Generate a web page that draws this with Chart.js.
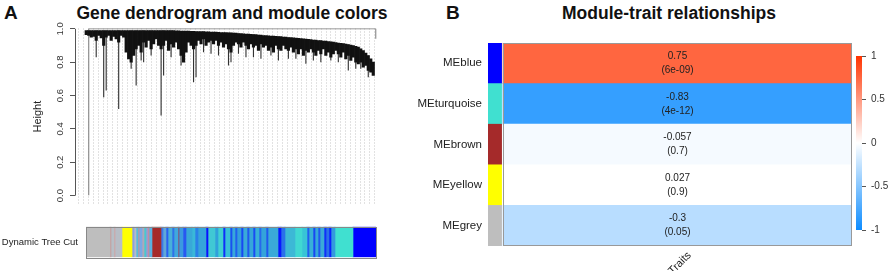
<!DOCTYPE html>
<html lang="en">
<head>
<meta charset="UTF-8">
<title>Gene dendrogram and module-trait relationships</title>
<script src="https://cdn.jsdelivr.net/npm/chart.js"></script>
<style>
  body { margin: 0; background: #fff; width: 892px; height: 271px; position: relative; overflow: hidden;
         font-family: "Liberation Sans", Arial, sans-serif; }
  .abs { position: absolute; }
  .panel { font-weight: bold; font-size: 19px; color: #111; line-height: 22px; }
  .title { font-weight: bold; font-size: 17.5px; color: #111; text-align: center; line-height: 22px; }
</style>
</head>
<body>
<div class="abs panel" style="left:4px;top:2px">A</div>
<div class="abs title" style="left:72px;top:2px;width:320px">Gene dendrogram and module colors</div>
<div class="abs panel" style="left:446px;top:2px">B</div>
<div class="abs title" style="left:519px;top:2px;width:300px">Module-trait relationships</div>
<canvas id="dendro" class="abs" style="left:0;top:0" width="392" height="214"></canvas>
<canvas id="cut" class="abs" style="left:0;top:213px" width="392" height="58"></canvas>
<canvas id="heat" class="abs" style="left:400px;top:0" width="492" height="271"></canvas>
<canvas id="key" class="abs" style="left:850px;top:45px" width="42" height="196"></canvas>
<script>
// ---- panel A: dendrogram ----
const yTicks = [0, 0.2, 0.4, 0.6, 0.8, 1.0];
const rootHeight = 1.0;

// merge height above each leaf group (left to right)
const leafTop = [
  0.99, 0.99, 0.99, 0.99, 0.99, 0.99, 0.99, 0.99, 0.99, 0.99, 0.99, 0.99, 0.99, 0.99, 0.99, 0.99,
  0.99, 0.99, 0.99, 0.99, 0.99, 0.99, 0.99, 0.99, 0.99, 0.99, 0.99, 0.99, 0.99, 0.99,
  0.99, 0.99, 0.99, 0.99, 0.99, 0.99,
  0.988, 0.988, 0.987, 0.987, 0.986, 0.986, 0.985, 0.985, 0.984, 0.984, 0.983, 0.983, 0.982, 0.982, 0.981,
  0.98, 0.98, 0.979, 0.978, 0.978, 0.977, 0.976, 0.976, 0.975, 0.974,
  0.972, 0.971, 0.97, 0.969, 0.968, 0.967, 0.966, 0.965, 0.963, 0.962,
  0.96, 0.959, 0.958, 0.957, 0.956, 0.955, 0.954, 0.953, 0.951, 0.95,
  0.948, 0.947, 0.946, 0.944, 0.943, 0.942, 0.94, 0.939, 0.937, 0.935,
  0.933, 0.932, 0.93, 0.929, 0.927, 0.926, 0.924, 0.922, 0.92, 0.918,
  0.915, 0.913, 0.911, 0.908, 0.906, 0.903, 0.9,
  0.895, 0.89, 0.88, 0.87, 0.855, 0.84, 0.82, 0.8
];
// lower edge of the dense branch mass
const leafLow = [
  0.965, 0.96, 0.95, 0.955, 0.93, 0.96, 0.945, 0.9, 0.95, 0.96, 0.93, 0.955, 0.94, 0.92, 0.96, 0.95,
  0.86, 0.82, 0.8, 0.84, 0.88, 0.9, 0.86, 0.92, 0.89, 0.93, 0.88, 0.91, 0.94, 0.9,
  0.88, 0.9, 0.93, 0.87, 0.91, 0.89,
  0.92, 0.88, 0.84, 0.8, 0.86, 0.92, 0.9, 0.88, 0.9, 0.93, 0.91, 0.94, 0.9, 0.92, 0.93,
  0.91, 0.93, 0.9, 0.92, 0.89, 0.91, 0.88, 0.86, 0.9, 0.92,
  0.91, 0.89, 0.92, 0.9, 0.88, 0.91, 0.89, 0.9, 0.87, 0.91,
  0.89, 0.9, 0.87, 0.89, 0.86, 0.9, 0.88, 0.87, 0.9, 0.88,
  0.87, 0.89, 0.86, 0.88, 0.85, 0.88, 0.84, 0.87, 0.86, 0.88,
  0.86, 0.84, 0.87, 0.85, 0.88, 0.84, 0.86, 0.83, 0.85, 0.87,
  0.85, 0.83, 0.86, 0.82, 0.84, 0.81, 0.83,
  0.8, 0.79, 0.8, 0.77, 0.78, 0.75, 0.74, 0.72
];
// single leaves hanging lower than the mass
const hangLeaf = [4, 7, 8, 13, 18, 20, 22, 23, 26, 30, 31, 34, 38, 43, 44, 47, 50, 53, 57, 58,
                  61, 64, 67, 70, 74, 77, 81, 84, 88, 91, 94, 98, 101, 105, 108, 110, 113];
const hangLow  = [0.83, 0.59, 0.63, 0.52, 0.76, 0.66, 0.81, 0.8, 0.84, 0.48, 0.72, 0.83, 0.78, 0.68, 0.71, 0.86,
                  0.85, 0.84, 0.78, 0.8, 0.85, 0.83, 0.83, 0.82, 0.84, 0.81, 0.82, 0.82, 0.79, 0.81, 0.8,
                  0.81, 0.8, 0.75, 0.76, 0.76, 0.71];
// the two leaves joined only at the root
const outerLeaf = [1, 116];
const outerLow = [0.0, 0.94];

// Dynamic Tree Cut colour strip, left to right (width in genes, scaled)
const cutLabel = 'Dynamic Tree Cut';
const segColors = [
  '#bebebe', '#c49a9a', '#b7bfc6', '#cfa3a3', '#b8bec6', '#ffff00',
  '#8c9fe0', '#b4bcc8', '#58bcd8', '#c89098', '#7aa8e4', '#b0a8b8', '#48c8d0', '#a098d0', '#d08888', '#5ab0e0',
  '#a52a2a',
  '#3c78e8', '#60a8d8', '#2a60f0', '#48b0d8', '#3070e8', '#40a8dc', '#8a4a6a', '#3a9ae0', '#2858f0', '#38a8d8',
  '#3ab8d8', '#2a80e8', '#36a4da', '#0a10ff', '#40c8d4', '#30a0dc', '#40d0d2', '#1030f8', '#38c0d8', '#1a50f0',
  '#38a8da', '#2060ee', '#34a0dc', '#1848f2', '#3aaad8', '#2058ee', '#36a6da', '#1a4cf2', '#38b0d8', '#2868ec',
  '#34a4da', '#2058ee', '#3aaad8', '#0818ff', '#2a70ea', '#3cb8d6', '#40d8d2', '#38c4d6', '#2060ee', '#38b0d8',
  '#1848f2', '#36a8da', '#2058ee', '#3aaad8', '#1030f8', '#2a70ea', '#0a20ff', '#3498de',
  '#40e0d0', '#0000ff'
];
const segWidths = [
  24, 1, 3, 1, 7, 10,
  2, 2, 2, 1, 3, 2, 2, 2, 1, 3,
  9,
  2, 3, 2, 4, 2, 4, 1, 4, 3, 6,
  3, 3, 8, 2, 7, 3, 5, 2, 5, 2,
  3, 2, 4, 2, 4, 2, 4, 2, 4, 2,
  5, 2, 10, 3, 4, 10, 7, 5, 2, 4,
  2, 3, 2, 4, 2, 3, 2, 4,
  18, 23
];

// ---- panel B: module-trait heatmap ----
const modules = ['MEblue', 'MEturquoise', 'MEbrown', 'MEyellow', 'MEgrey'];
const moduleColors = ['#0000ff', '#40e0d0', '#a52a2a', '#ffff00', '#bebebe'];
const traitNames = ['Traits'];
const corr = [0.75, -0.83, -0.057, 0.027, -0.3];
const pValues = ['6e-09', '4e-12', '0.7', '0.9', '0.05'];
const keyTicks = [-1, -0.5, 0, 0.5, 1];

Chart.defaults.font.family = '"Liberation Sans", Arial, sans-serif';
Chart.defaults.color = '#222';

const blueEnd = [13, 140, 255];
const redEnd = [255, 51, 0];
const nColors = 50;

function mixWhite(end, f) {
  const c = end.map(e => Math.round(e + (255 - e) * f));
  return `rgb(${c[0]},${c[1]},${c[2]})`;
}
// blueWhiteRed(50): value binned into 50 colours over [-1, 1]
function heatColor(v) {
  const half = nColors / 2;
  const idx = Math.min(Math.floor((v + 1) / 2 * nColors), nColors - 1);
  if (idx < half) return mixWhite(blueEnd, idx / (half - 1));
  return mixWhite(redEnd, (nColors - 1 - idx) / (half - 1));
}
// continuous version for the key
function keyColor(v) {
  return mixWhite(v < 0 ? blueEnd : redEnd, 1 - Math.abs(v));
}

const common = {
  responsive: false,
  animation: false,
  devicePixelRatio: 1,
  plugins: { legend: { display: false }, tooltip: { enabled: false } }
};

// y axis line only from 0 to 1, like base R
const heightAxisLine = {
  id: 'heightAxisLine',
  afterDraw(chart) {
    const { ctx, chartArea, scales } = chart;
    const x = Math.round(chartArea.left) + 0.5;
    ctx.save();
    ctx.strokeStyle = '#555';
    ctx.lineWidth = 1;
    ctx.beginPath();
    ctx.moveTo(x, scales.y.getPixelForValue(yTicks[0]));
    ctx.lineTo(x, scales.y.getPixelForValue(yTicks[yTicks.length - 1]));
    ctx.stroke();
    ctx.restore();
  }
};

new Chart(document.getElementById('dendro'), {
  type: 'bar',
  data: {
    datasets: [
      {
        data: leafTop.map((t, i) => ({ x: i, y: [leafLow[i], t] })),
        backgroundColor: '#111', borderWidth: 0,
        barPercentage: 1, categoryPercentage: 1, grouped: false
      },
      {
        data: hangLeaf.map((i, k) => ({ x: i, y: [hangLow[k], leafTop[i]] })),
        backgroundColor: '#333', borderWidth: 0,
        barPercentage: 0.45, categoryPercentage: 1, grouped: false
      },
      {
        data: outerLeaf.map((i, k) => ({ x: i, y: [outerLow[k], rootHeight] })),
        backgroundColor: '#888', borderWidth: 0,
        barPercentage: 0.45, categoryPercentage: 1, grouped: false
      },
      {
        type: 'line',
        data: outerLeaf.map(i => ({ x: i, y: rootHeight })),
        borderColor: '#999', borderWidth: 1, pointRadius: 0
      }
    ]
  },
  options: {
    ...common,
    layout: { padding: { top: 28, right: 15, bottom: 1 } },
    scales: {
      x: { type: 'linear', min: -4.5, max: 116.5, offset: false, display: false },
      xg: {
        type: 'linear', position: 'bottom', min: -2.3, max: 60, offset: false,
        ticks: { display: false, stepSize: 1 },
        grid: { color: '#e2e2e2', drawTicks: false },
        border: { display: false, dash: [2, 1] },
        afterFit(s) { s.height = 0; }
      },
      y: {
        min: -0.058, max: 1.005,
        afterBuildTicks(s) { s.ticks = yTicks.map(v => ({ value: v })); },
        ticks: {
          callback: v => v.toFixed(1), font: { size: 9.5 }, color: '#333',
          minRotation: 90, maxRotation: 90, crossAlign: 'center', padding: 3
        },
        grid: { drawOnChartArea: false, tickLength: 5, tickColor: '#555' },
        border: { display: false },
        title: { display: true, text: 'Height', font: { size: 11 }, color: '#222', padding: { top: 31, bottom: 0 } },
        afterFit(s) { s.width = 75; }
      }
    }
  },
  plugins: [heightAxisLine]
});

// frame round the colour strip
const stripFrame = {
  id: 'stripFrame',
  afterDatasetsDraw(chart) {
    const { ctx, chartArea: a } = chart;
    ctx.save();
    ctx.strokeStyle = '#888';
    ctx.lineWidth = 1;
    ctx.strokeRect(Math.round(a.left) + 0.5, Math.round(a.top) + 0.5,
                   Math.round(a.right - a.left), Math.round(a.bottom - a.top));
    ctx.restore();
  }
};

new Chart(document.getElementById('cut'), {
  type: 'bar',
  data: {
    labels: [cutLabel],
    datasets: segWidths.map((w, k) => ({
      data: [w], backgroundColor: segColors[k], borderWidth: 0,
      barPercentage: 1, categoryPercentage: 1
    }))
  },
  options: {
    ...common,
    indexAxis: 'y',
    layout: { padding: { top: 2, bottom: 10, right: 16 } },
    scales: {
      x: { stacked: true, min: 0, max: segWidths.reduce((a, b) => a + b, 0), display: false },
      y: {
        stacked: true,
        grid: { display: false, drawTicks: false }, border: { display: false },
        ticks: { font: { size: 9.5 }, color: '#222', padding: 8 },
        afterFit(s) { s.width = 86; }
      }
    }
  },
  plugins: [stripFrame]
});

// cell texts and heatmap outline
const cellText = {
  id: 'cellText',
  afterDatasetsDraw(chart) {
    const { ctx, chartArea: a, scales } = chart;
    const meta = chart.getDatasetMeta(1);
    ctx.save();
    ctx.fillStyle = '#222';
    ctx.font = '10px "Liberation Sans", Arial, sans-serif';
    ctx.textAlign = 'center';
    ctx.textBaseline = 'middle';
    meta.data.forEach((bar, i) => {
      const cx = (bar.x + bar.base) / 2;
      ctx.fillText(String(corr[i]), cx, bar.y - 7);
      ctx.fillText('(' + pValues[i] + ')', cx, bar.y + 7);
    });
    const x0 = Math.round(scales.x.getPixelForValue(0)) + 0.5;
    const x1 = Math.round(scales.x.getPixelForValue(1)) - 0.5;
    ctx.strokeStyle = '#999';
    ctx.lineWidth = 1;
    ctx.strokeRect(x0, Math.round(a.top) + 0.5, x1 - x0, Math.round(a.bottom - a.top) - 1);
    ctx.restore();
  }
};

new Chart(document.getElementById('heat'), {
  type: 'bar',
  data: {
    labels: modules,
    datasets: [
      {
        data: modules.map(() => [-0.043, -0.004]),
        backgroundColor: moduleColors, borderWidth: 0,
        barPercentage: 1, categoryPercentage: 1, grouped: false
      },
      {
        data: corr.map(() => [0, 1]),
        backgroundColor: corr.map(heatColor), borderWidth: 0,
        barPercentage: 1, categoryPercentage: 1, grouped: false
      }
    ]
  },
  options: {
    ...common,
    indexAxis: 'y',
    layout: { padding: { top: 43, right: 40 } },
    scales: {
      x: {
        min: -0.043, max: 1,
        afterBuildTicks(s) { s.ticks = traitNames.map(() => ({ value: 0.5 })); },
        ticks: {
          callback: (v, i) => traitNames[i], font: { size: 11 }, color: '#222',
          minRotation: 45, maxRotation: 45, padding: 3, labelOffset: 12
        },
        grid: { display: false, drawTicks: false },
        border: { display: false },
        afterFit(s) { s.height = 25; }
      },
      y: {
        grid: { display: false, drawTicks: false }, border: { display: false },
        ticks: { font: { size: 11.5 }, color: '#222', padding: 6 },
        afterFit(s) { s.width = 88; }
      }
    }
  },
  plugins: [cellText]
});

// colour key
new Chart(document.getElementById('key'), {
  type: 'bar',
  data: {
    labels: [''],
    datasets: [{
      data: [[keyTicks[0], keyTicks[keyTicks.length - 1]]],
      backgroundColor(ctx) {
        const { chart } = ctx;
        const a = chart.chartArea;
        if (!a) return '#fff';
        const g = chart.ctx.createLinearGradient(0, a.bottom, 0, a.top);
        keyTicks.forEach(v => g.addColorStop((v + 1) / 2, keyColor(v)));
        return g;
      },
      borderWidth: 0, barPercentage: 1, categoryPercentage: 1
    }]
  },
  options: {
    ...common,
    layout: { padding: { left: 6, top: 8, bottom: 8 } },
    scales: {
      x: { display: false },
      y: {
        position: 'right', min: -1, max: 1,
        afterBuildTicks(s) { s.ticks = keyTicks.map(v => ({ value: v })); },
        ticks: { callback: v => String(v), font: { size: 10 }, color: '#333', padding: 5 },
        grid: { drawOnChartArea: false, tickLength: 4, tickColor: '#555' },
        border: { display: false },
        afterFit(s) { s.width = 30; }
      }
    }
  }
});
</script>
</body>
</html>
